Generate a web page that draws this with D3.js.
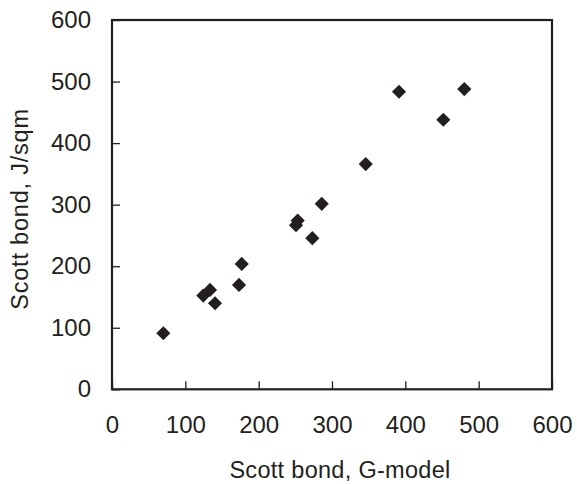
<!DOCTYPE html>
<html>
<head>
<meta charset="utf-8">
<script src="https://cdn.jsdelivr.net/npm/d3@7"></script>
<style>
  html, body { margin: 0; padding: 0; background: #fff; }
  svg { display: block; }
  text { font-family: "Liberation Sans", Arial, sans-serif; fill: #231f20; }
</style>
</head>
<body>
<svg id="chart" width="577" height="484"></svg>
<script>
const xValues = [70, 124.5, 133.6, 140.5, 173.2, 176.9, 250.9, 253.2, 273.2, 286, 346, 391.4, 451.8, 480.4];
const yValues = [91, 152.2, 161.5, 139.8, 169.6, 203.7, 266.7, 274.1, 245.5, 301.3, 365.9, 483.4, 437.9, 487.8];
const xTicks = [0, 100, 200, 300, 400, 500, 600];
const yTicks = [0, 100, 200, 300, 400, 500, 600];
const xTitle = "Scott bond, G-model";
const yTitle = "Scott bond, J/sqm";

const svg = d3.select("#chart");
const mLeft = 112, mRight = 552, mTop = 20, mBottom = 389.3;
const x = d3.scaleLinear().domain([0, 600]).range([mLeft, mRight]);
const y = d3.scaleLinear().domain([0, 600]).range([mBottom, mTop]);
const ink = "#231f20";

// frame
svg.append("rect").attr("x", mLeft).attr("y", mTop)
  .attr("width", mRight - mLeft).attr("height", mBottom - mTop)
  .attr("fill", "none").attr("stroke", ink).attr("stroke-width", 2.2);

// x axis
const xAxis = svg.append("g").attr("transform", `translate(0,${mBottom})`)
  .call(d3.axisBottom(x).tickValues(xTicks).tickSizeInner(-8).tickSizeOuter(0).tickPadding(27));
xAxis.select(".domain").remove();
xAxis.selectAll("line").attr("stroke", ink).attr("stroke-width", 1.3);
xAxis.selectAll("text").attr("font-size", 24).attr("font-family", "Liberation Sans, Arial, sans-serif").attr("fill", ink);

// y axis
const yAxis = svg.append("g").attr("transform", `translate(${mLeft},0)`)
  .call(d3.axisLeft(y).tickValues(yTicks).tickSizeInner(-8).tickSizeOuter(0).tickPadding(21));
yAxis.select(".domain").remove();
yAxis.selectAll("line").attr("stroke", ink).attr("stroke-width", 1.3);
yAxis.selectAll("text").attr("font-size", 24).attr("font-family", "Liberation Sans, Arial, sans-serif").attr("fill", ink);

// points
const data = xValues.map((v, i) => ({ x: v, y: yValues[i] }));
const sym = d3.symbol().type(d3.symbolSquare).size(100);
svg.append("g").selectAll("path").data(data).join("path")
  .attr("d", sym)
  .attr("transform", d => `translate(${x(d.x)},${y(d.y)}) rotate(45)`)
  .attr("fill", ink);

// titles
svg.append("text").attr("x", 340).attr("y", 478).attr("text-anchor", "middle")
  .attr("font-size", 23.5).attr("letter-spacing", 0.3).text(xTitle);
svg.append("text").attr("transform", "translate(28,209) rotate(-90)").attr("text-anchor", "middle")
  .attr("font-size", 23.5).attr("letter-spacing", 0.8).text(yTitle);
</script>
</body>
</html>
